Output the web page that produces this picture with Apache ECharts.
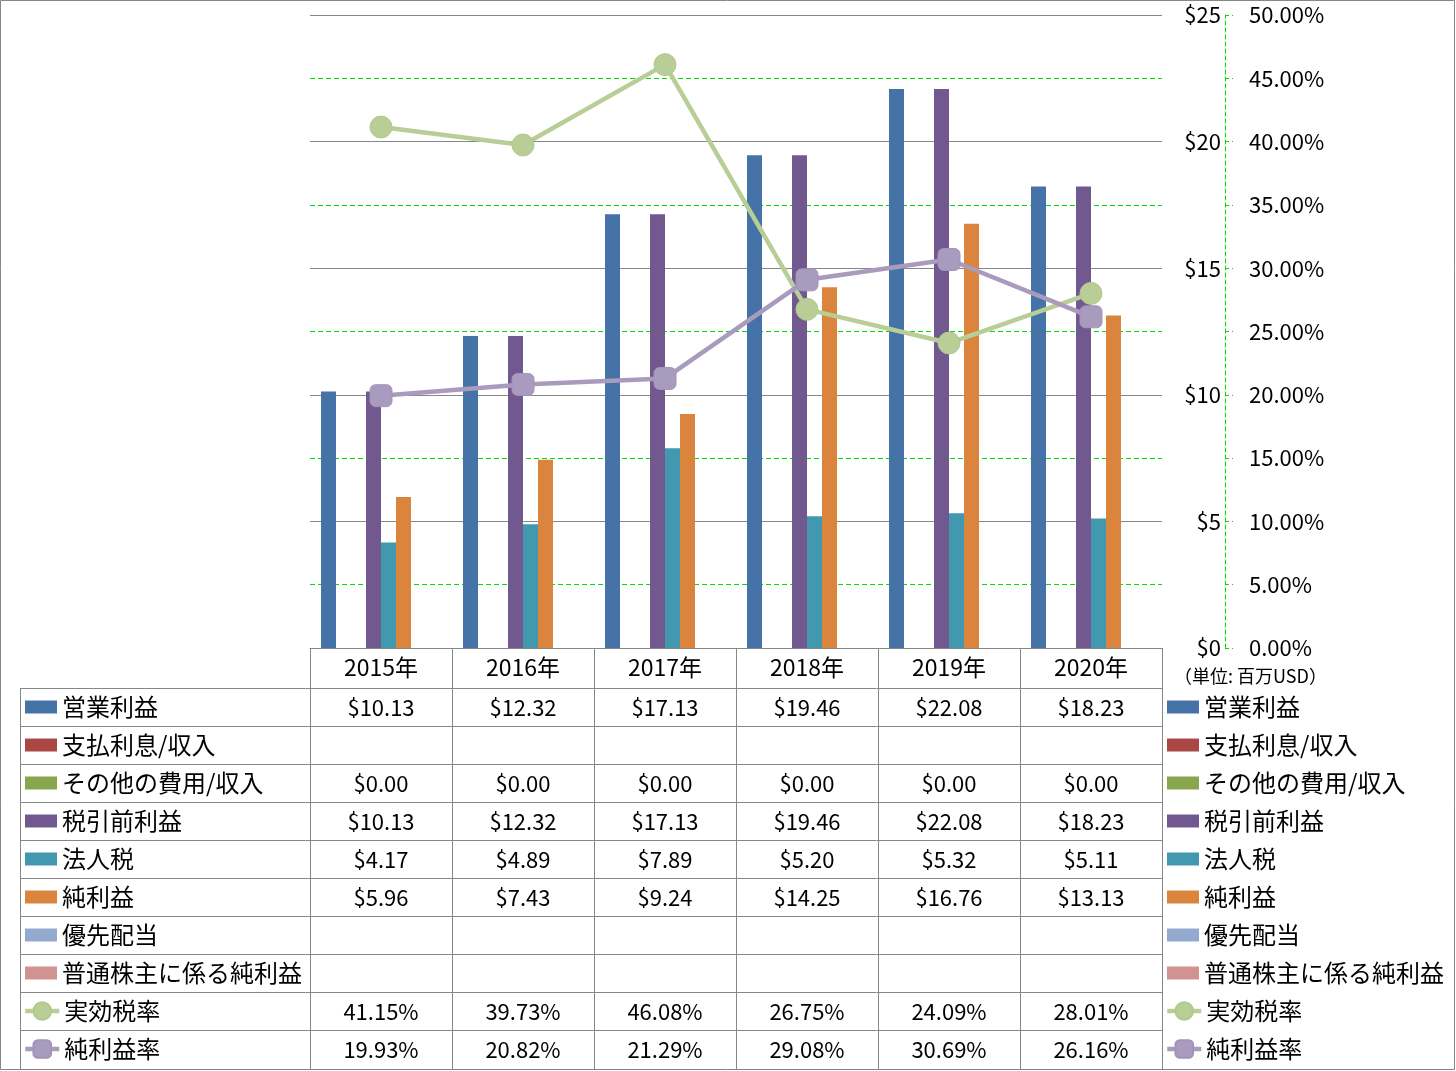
<!DOCTYPE html>
<html><head><meta charset="utf-8">
<script src="https://cdn.jsdelivr.net/npm/echarts@6.0.0/dist/echarts.min.js"></script>
<style>html,body{margin:0;padding:0;background:#fff}#c{width:1456px;height:1071px}</style>
</head><body><div id="c"></div>
<script>
// ---- data ----
const years = ['2015年','2016年','2017年','2018年','2019年','2020年'];
const operatingIncome    = [10.13, 12.32, 17.13, 19.46, 22.08, 18.23];
const interestExpense    = [null, null, null, null, null, null];
const otherExpense       = [0, 0, 0, 0, 0, 0];
const preTaxIncome       = [10.13, 12.32, 17.13, 19.46, 22.08, 18.23];
const incomeTax          = [4.17, 4.89, 7.89, 5.20, 5.32, 5.11];
const netIncome          = [5.96, 7.43, 9.24, 14.25, 16.76, 13.13];
const preferredDividends = [null, null, null, null, null, null];
const netIncomeCommon    = [null, null, null, null, null, null];
const effectiveTaxRate   = [41.15, 39.73, 46.08, 26.75, 24.09, 28.01];
const netMargin          = [19.93, 20.82, 21.29, 29.08, 30.69, 26.16];
const barNames = ['営業利益','支払利息/収入','その他の費用/収入','税引前利益','法人税','純利益','優先配当','普通株主に係る純利益'];
const lineNames = ['実効税率','純利益率'];
const unitLabel = '（単位: 百万USD）';

// ---- styles ----
const FONT = "'Noto Sans CJK JP', 'Noto Sans', sans-serif";
const barColors = ['#4572A7','#AA4643','#89A54E','#71588F','#4198AF','#DB843D','#93A9CF','#D19392'];
const lineColors = ['#B9CD96','#A99BBD'];
const markerBorders = ['#B3C88D','#A294B8'];
const GRID_L = 310, GRID_R = 1162, GRID_T = 15, GRID_B = 648;
const ROW_TOP = 688, ROW_H = 38, COL_W = (GRID_R - GRID_L) / years.length;
const lineGray = '#878787';
const NUM_SIZE = 22, JP_SIZE = 23, LEG_SIZE = 24;

const barData = [operatingIncome, interestExpense, otherExpense, preTaxIncome, incomeTax, netIncome, preferredDividends, netIncomeCommon];
const lineData = [effectiveTaxRate, netMargin];

const series = [];
barNames.forEach((n, i) => series.push({
  name: n, type: 'bar', data: barData[i], yAxisIndex: 0,
  barWidth: 15, barGap: '0%', itemStyle: {color: barColors[i]}, z: 2
}));
const syms = ['circle', 'roundRect'];
lineNames.forEach((n, i) => series.push({
  name: n, type: 'line', data: lineData[i], yAxisIndex: 1,
  symbol: syms[i], symbolSize: 22, showSymbol: true,
  lineStyle: {color: lineColors[i], width: 4.5},
  itemStyle: {color: lineColors[i], borderColor: markerBorders[i], borderWidth: 1}, z: 5
}));

// ---- table graphics ----
const graphics = [];
graphics.push({type: 'rect', shape: {x: 0.5, y: 0.5, width: 1454, height: 1069}, style: {fill: 'none', stroke: lineGray, lineWidth: 1}, silent: true});
const allNames = barNames.concat(lineNames);
for (let r = 0; r <= allNames.length - 1; r++) {
  const y = ROW_TOP + r * ROW_H + 0.5;
  graphics.push({type: 'line', shape: {x1: 20, y1: y, x2: GRID_R, y2: y}, style: {stroke: lineGray, lineWidth: 1}, silent: true});
}
graphics.push({type: 'line', shape: {x1: 20.5, y1: ROW_TOP, x2: 20.5, y2: 1070}, style: {stroke: lineGray, lineWidth: 1}, silent: true});
const fmtDollar = v => (v === null || v === undefined) ? '' : '$' + v.toFixed(2);
const fmtPct = v => (v === null || v === undefined) ? '' : v.toFixed(2) + '%';
const tableRows = barData.map(a => a.map(fmtDollar)).concat(lineData.map(a => a.map(fmtPct)));
tableRows.forEach((row, r) => row.forEach((txt, c) => {
  if (!txt) return;
  graphics.push({type: 'text', x: GRID_L + COL_W * (c + 0.5), y: ROW_TOP + ROW_H * r + ROW_H / 2 + 1,
    style: {text: txt, fill: '#000', font: NUM_SIZE + 'px ' + FONT, textAlign: 'center', textVerticalAlign: 'middle'}, silent: true});
}));
graphics.push({type: 'text', x: 1174, y: 676, style: {text: unitLabel, fill: '#000', font: '18px ' + FONT, textAlign: 'left', textVerticalAlign: 'middle'}, silent: true});

const legendText = {fontSize: LEG_SIZE, fontFamily: FONT, color: '#000', lineHeight: ROW_H, height: ROW_H};
function barLegend(left) {
  return {orient: 'vertical', itemGap: 0, itemWidth: 32, itemHeight: 13, padding: 0, selectedMode: false,
    left: left, top: ROW_TOP, textStyle: legendText, data: barNames.map(n => ({name: n, icon: 'rect'}))};
}
function lineLegend(left) {
  return {orient: 'vertical', itemGap: 0, itemWidth: 34, itemHeight: 22, padding: 0, selectedMode: false,
    left: left, top: ROW_TOP + ROW_H * barNames.length, textStyle: legendText,
    lineStyle: {width: 4.5}, data: lineNames.slice()};
}

const chart = echarts.init(document.getElementById('c'), null, {renderer: 'canvas'});
chart.setOption({
  animation: false,
  backgroundColor: '#fff',
  textStyle: {fontFamily: FONT},
  grid: {left: GRID_L, right: 1456 - GRID_R, top: GRID_T, bottom: 1071 - GRID_B, containLabel: false},
  legend: [barLegend(25), lineLegend(23), barLegend(1167), lineLegend(1165)],
  xAxis: {
    type: 'category', data: years, boundaryGap: true,
    axisLine: {show: true, lineStyle: {color: lineGray, width: 1}},
    axisTick: {show: true, alignWithLabel: false, length: 422, lineStyle: {color: lineGray, width: 1}},
    axisLabel: {fontSize: JP_SIZE, color: '#000', fontFamily: FONT, margin: 8}
  },
  yAxis: [
    {
      type: 'value', min: 0, max: 25, interval: 5, position: 'right', offset: 63,
      axisLine: {show: false}, axisTick: {show: false},
      axisLabel: {inside: true, margin: 4, fontSize: NUM_SIZE, color: '#000', fontFamily: FONT, formatter: v => '$' + v},
      splitLine: {show: true, lineStyle: {color: lineGray, width: 1, type: 'solid'}}
    },
    {
      type: 'value', min: 0, max: 50, interval: 5, position: 'right', offset: 63,
      axisLine: {show: true, lineStyle: {color: '#00E000', width: 1, type: [4, 3]}},
      axisTick: {show: true, length: 8, lineStyle: {color: '#00E000', width: 1, type: [4, 3]}},
      axisLabel: {margin: 24, fontSize: NUM_SIZE, color: '#000', fontFamily: FONT, formatter: v => v.toFixed(2) + '%'},
      splitLine: {show: true, lineStyle: {color: ['rgba(0,0,0,0)', '#00E000'], width: 1, type: [5, 3]}}
    }
  ],
  series: series,
  graphic: graphics
});
</script></body></html>
